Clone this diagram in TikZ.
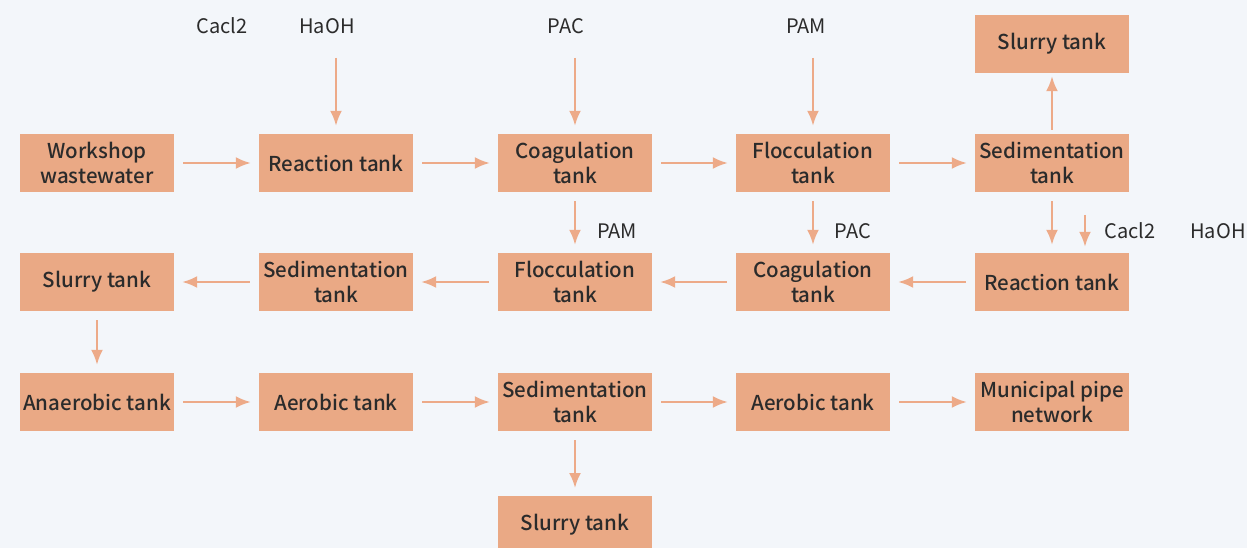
\documentclass[tikz,border=0pt]{standalone}
\usepackage{fontspec}
\setmainfont{Noto Sans CJK SC}[BoldFont={* Medium}]
\usetikzlibrary{arrows.meta}
\definecolor{bg}{HTML}{F3F6FA}
\definecolor{boxfill}{HTML}{EAA985}
\definecolor{arr}{HTML}{EDAA88}
\definecolor{txt}{HTML}{2B2B2B}
\tikzset{
  tank/.style={fill=boxfill, draw=none, minimum width=154pt, minimum height=58pt, inner sep=0pt, align=center, text=txt, font=\fontsize{20.5}{25}\selectfont\bfseries},
  lbl/.style={text=txt, font=\fontsize{20}{22}\selectfont, inner sep=0pt},
  flow/.style={draw=arr, line width=2.3pt, -{Latex[length=15pt,width=12pt]}, shorten <=9pt, shorten >=8pt},
}
\begin{document}
\begin{tikzpicture}[x=1pt,y=-1pt]
\fill[bg] (0,0) rectangle (1247,548);
\useasboundingbox (0,0) rectangle (1247,548);
\begin{scope}
\clip (0,0) rectangle (1247,548);
% row 1
\node[tank] (ww) at (97,163) {Workshop\\wastewater};
\node[tank] (r1) at (336,163) {Reaction tank};
\node[tank] (c1) at (575,163) {Coagulation\\tank};
\node[tank] (f1) at (813,163) {Flocculation\\tank};
\node[tank] (s1) at (1052,163) {Sedimentation\\tank};
\node[tank] (sl1) at (1052,44) {Slurry tank};
% row 2
\node[tank] (sl2) at (97,282) {Slurry tank};
\node[tank] (s2) at (336,282) {Sedimentation\\tank};
\node[tank] (f2) at (575,282) {Flocculation\\tank};
\node[tank] (c2) at (813,282) {Coagulation\\tank};
\node[tank] (r2) at (1052,282) {Reaction tank};
% row 3
\node[tank] (an) at (97,402) {Anaerobic tank};
\node[tank] (ae1) at (336,402) {Aerobic tank};
\node[tank] (s3) at (575,402) {Sedimentation\\tank};
\node[tank] (ae2) at (813,402) {Aerobic tank};
\node[tank] (mp) at (1052,402) {Municipal pipe\\network};
% row 4
\node[tank] (sl3) at (575,525) {Slurry tank};
\end{scope}
% labels
\node[lbl] (cacl1) at (222,26) {Cacl2};
\node[lbl] (haoh1) at (327,26) {HaOH};
\node[lbl] (pac1) at (566,26) {PAC};
\node[lbl] (pam1) at (806,26) {PAM};
\node[lbl] (pam2) at (617,231) {PAM};
\node[lbl] (pac2) at (853,231) {PAC};
\node[lbl] (cacl2) at (1130,231) {Cacl2};
\node[lbl] (haoh2) at (1218,231) {HaOH};
\coordinate (t1) at (336,58);
\coordinate (t2) at (575,58);
\coordinate (t3) at (813,58);
\coordinate (t4) at (1085,215);
% flows
\draw[flow] (ww) -- (r1);
\draw[flow] (r1) -- (c1);
\draw[flow] (c1) -- (f1);
\draw[flow] (f1) -- (s1);
\draw[flow, shorten <=4pt, shorten >=3pt] (s1) -- (sl1);
\draw[flow] (s1) -- (r2);
\draw[flow] (r2) -- (c2);
\draw[flow] (c2) -- (f2);
\draw[flow] (f2) -- (s2);
\draw[flow] (s2) -- (sl2);
\draw[flow] (c1) -- (f2);
\draw[flow] (f1) -- (c2);
\draw[flow] (sl2) -- (an);
\draw[flow] (an) -- (ae1);
\draw[flow] (ae1) -- (s3);
\draw[flow] (s3) -- (ae2);
\draw[flow] (ae2) -- (mp);
\draw[flow] (s3.south) -- (575,496);
\draw[flow, shorten <=0pt] (t1) -- (r1);
\draw[flow, shorten <=0pt] (t2) -- (c1);
\draw[flow, shorten <=0pt] (t3) -- (f1);
\draw[flow, shorten <=0pt, shorten >=6pt] (t4) -- (t4 |- r2.north);
\end{tikzpicture}
\end{document}
